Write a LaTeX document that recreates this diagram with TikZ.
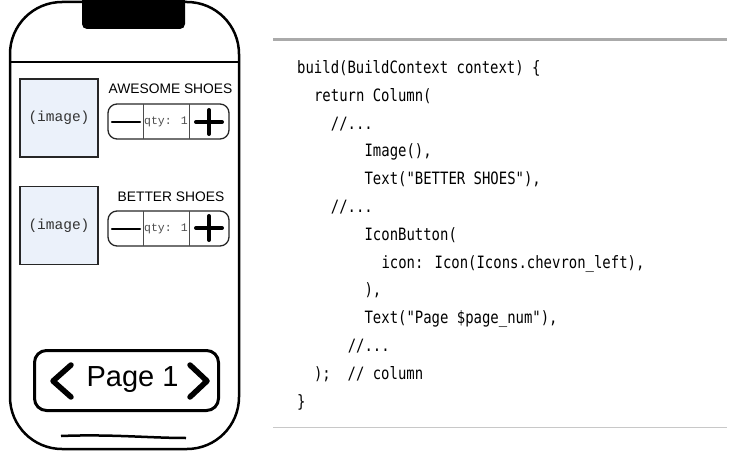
\documentclass[tikz,border=0pt]{standalone}
\usepackage{fontspec}
\setmainfont{Liberation Sans}
\newfontfamily\codefont[FakeStretch=0.82]{DejaVu Sans Mono}
\newfontfamily\courfont{Liberation Mono}
\definecolor{imgfill}{RGB}{235,241,250}
\definecolor{rulegray}{RGB}{170,170,170}
\definecolor{rulelight}{RGB}{200,200,200}
\tikzset{
  phoneline/.style={line width=2.5pt, black},
  imgbox/.style={draw=black!85, line width=1.2pt, fill=imgfill, minimum width=78pt, minimum height=78pt, inner sep=0pt, font=\courfont\fontsize{14.5}{16}\selectfont, text=black!80},
  qtybox/.style={draw=black!85, line width=1.3pt, rounded corners=9pt, minimum width=121pt, minimum height=35pt, inner sep=0pt},
  qtytext/.style={inner sep=0pt, font=\courfont\fontsize{11.5}{13}\selectfont, text=black!70},
  divider/.style={line width=0.8pt, black!70},
  minusbar/.style={line width=2.5pt, line cap=round},
  plusbar/.style={line width=4pt, line cap=round},
  title/.style={inner sep=0pt, font=\fontsize{13.8}{15}\selectfont},
  codeline/.style={anchor=base west, inner sep=0pt, font=\codefont\fontsize{17}{19}\selectfont, text=black},
  chevron/.style={line width=5.5pt, line cap=round, line join=round},
}
\begin{document}
\begin{tikzpicture}[x=1pt,y=-1pt]
\useasboundingbox (0,0) rectangle (732,460);
% phone body
\draw[phoneline, rounded corners=52pt] (10,2) rectangle (239,449);
\fill (82,0) [rounded corners=5pt]-- (82,29) -- (185,29) [sharp corners]-- (185,0) -- cycle;
\draw[line width=2pt] (10,62) -- (239,62);
% item 1
\node[imgbox] (img1) at (59,118) {(image)};
\node[title] (t1) at (170.5,89) {AWESOME SHOES};
\node[qtybox] (q1) at (168.5,121.5) {};
\draw[divider] (143,104) -- (143,139);
\draw[divider] (189,104) -- (189,139);
\node[qtytext] (qt1) at (166,122) {qty: 1};
\draw[minusbar] (112,122) -- (140,122);
\draw[plusbar] (196,122) -- (222,122);
\draw[plusbar] (209,110) -- (209,134);
% item 2
\node[imgbox] (img2) at (59,225.5) {(image)};
\node[title] (t2) at (171,196.5) {BETTER SHOES};
\node[qtybox] (q2) at (168.5,228.5) {};
\draw[divider] (143,211) -- (143,246);
\draw[divider] (189,211) -- (189,246);
\node[qtytext] (qt2) at (166,229) {qty: 1};
\draw[minusbar] (112,229) -- (140,229);
\draw[plusbar] (196,228) -- (222,228);
\draw[plusbar] (209,216) -- (209,240);
% page button
\node[draw, line width=3pt, rounded corners=12pt, minimum width=184pt, minimum height=60pt, inner sep=0pt] (pg) at (126.5,380.5) {};
\node[inner sep=0pt, font=\fontsize{29}{31}\selectfont] (pgt) at (132.5,380) {Page 1};
\draw[chevron] (71,365) -- (53,381) -- (71,397);
\draw[chevron] (190,365) -- (207,381) -- (190,397);
% home bar
\draw[line width=2.5pt] (61,436) .. controls (110,434) and (150,438) .. (186,438);
% code panel
\draw[rulegray, line width=3pt] (273,40) -- (727,40);
\draw[rulelight, line width=1pt] (273,427) -- (727,427);
\node[codeline] (c1) at (297,73.5) {build(BuildContext context) \{};
\node[codeline] (c2) at (313.9,101.3) {return Column(};
\node[codeline] (c3) at (330.7,129.1) {//...};
\node[codeline] (c4) at (364.4,156.9) {Image(),};
\node[codeline] (c5) at (364.4,184.7) {Text("BETTER SHOES"),};
\node[codeline] (c6) at (330.7,212.5) {//...};
\node[codeline] (c7) at (364.4,240.3) {IconButton(};
\node[codeline] (c8) at (381.3,268.1) {icon: Icon(Icons.chevron\_left),};
\node[codeline] (c9) at (364.4,295.9) {),};
\node[codeline] (c10) at (364.4,323.7) {Text("Page \$page\_num"),};
\node[codeline] (c11) at (347.6,351.5) {//...};
\node[codeline] (c12) at (313.9,379.3) {);~~// column};
\node[codeline] (c13) at (297,407.1) {\}};
\end{tikzpicture}
\end{document}
